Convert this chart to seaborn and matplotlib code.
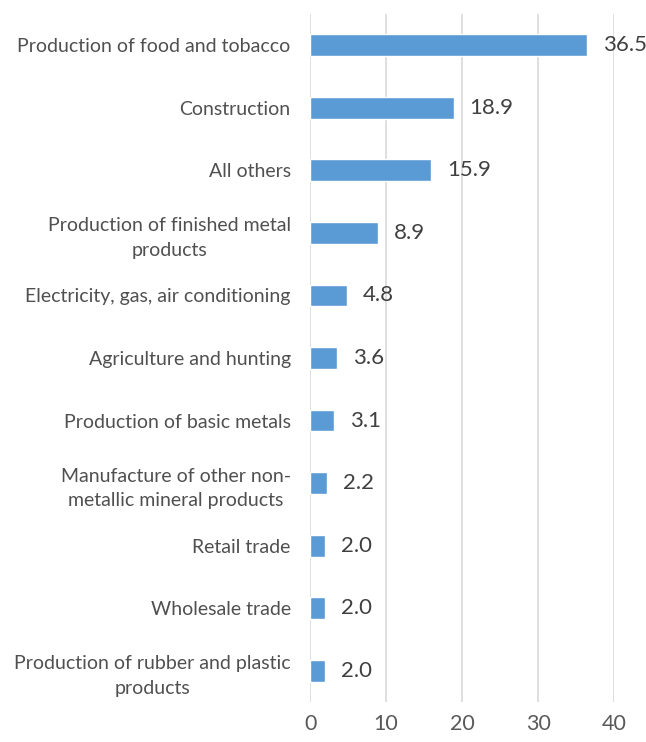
import matplotlib
matplotlib.use("Agg")
import matplotlib.pyplot as plt
import seaborn as sns
import pandas as pd

categories = [
    "Production of food and tobacco",
    "Construction",
    "All others",
    "Production of finished metal\nproducts",
    "Electricity, gas, air conditioning",
    "Agriculture and hunting",
    "Production of basic metals",
    "Manufacture of other non-\nmetallic mineral products",
    "Retail trade",
    "Wholesale trade",
    "Production of rubber and plastic\nproducts",
]
values = [36.5, 18.9, 15.9, 8.9, 4.8, 3.6, 3.1, 2.2, 2.0, 2.0, 2.0]
x_ticks = [0, 10, 20, 30, 40]

sns.set_theme(style="white")
plt.rcParams["font.family"] = ["Lato", "DejaVu Sans"]

df = pd.DataFrame({"sector": categories, "value": values})

fig = plt.figure(figsize=(6.46, 7.42), dpi=100)
ax = fig.add_axes([0.48, 0.054, 0.4706, 0.927])

sns.barplot(data=df, x="value", y="sector", orient="h", color="#5B9BD5",
            width=0.35, saturation=1, ax=ax, zorder=3)

ax.set_xlim(0, 40)
ax.set_xticks(x_ticks)
ax.xaxis.grid(True, color="#D9D9D9", linewidth=1.2, zorder=0)
ax.yaxis.grid(False)
for s in ax.spines.values():
    s.set_visible(False)
ax.set_xlabel("")
ax.set_ylabel("")
ax.tick_params(axis="x", length=0, pad=9, labelsize=15.5, labelcolor="#595959")
ax.tick_params(axis="y", length=0, pad=14, labelsize=14, labelcolor="#505050")
for lbl in ax.get_yticklabels():
    lbl.set_multialignment("center")
    lbl.set_linespacing(1.55)

for i, v in enumerate(values):
    ax.text(v + 2.1, i, f"{v:.1f}", va="center", ha="left", fontsize=16,
            color="#404040", clip_on=False)

fig.savefig("out.png", dpi=100)
